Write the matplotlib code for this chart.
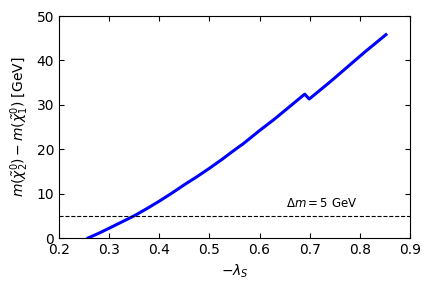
import matplotlib
matplotlib.use('Agg')
import matplotlib.pyplot as plt

lam = [0.258, 0.28, 0.30, 0.325, 0.35, 0.375, 0.40, 0.425, 0.45, 0.475, 0.50, 0.525,
       0.545, 0.562, 0.566, 0.60, 0.63, 0.66, 0.69,
       0.699, 0.74, 0.775, 0.81, 0.852]
dm = [0.0, 1.1, 2.2, 3.6, 5.0, 6.6, 8.3, 10.1, 12.0, 13.8, 15.7, 17.7,
      19.4, 20.8, 21.1, 24.2, 26.8, 29.6, 32.4,
      31.3, 35.1, 38.5, 41.9, 45.8]
dm_cut = 5

fig = plt.figure(figsize=(4.32, 2.88), dpi=100)
ax = fig.add_axes([59/432, 50/288, 351/432, 222/288])
ax.plot(lam, dm, color='blue', lw=2.2)
ax.axhline(dm_cut, color='black', ls='--', lw=0.8)
ax.text(0.653, 6.9, r'$\Delta m = 5$ GeV', fontsize=8.5)

ax.set_xlim(0.2, 0.9)
ax.set_ylim(0, 50)
ax.tick_params(direction='in', top=True, right=True)
ax.set_xlabel(r'$-\lambda_S$')
ax.set_ylabel(r'$m(\tilde{\chi}_2^0)-m(\tilde{\chi}_1^0)$ [GeV]')

fig.savefig('out.png', dpi=100)
